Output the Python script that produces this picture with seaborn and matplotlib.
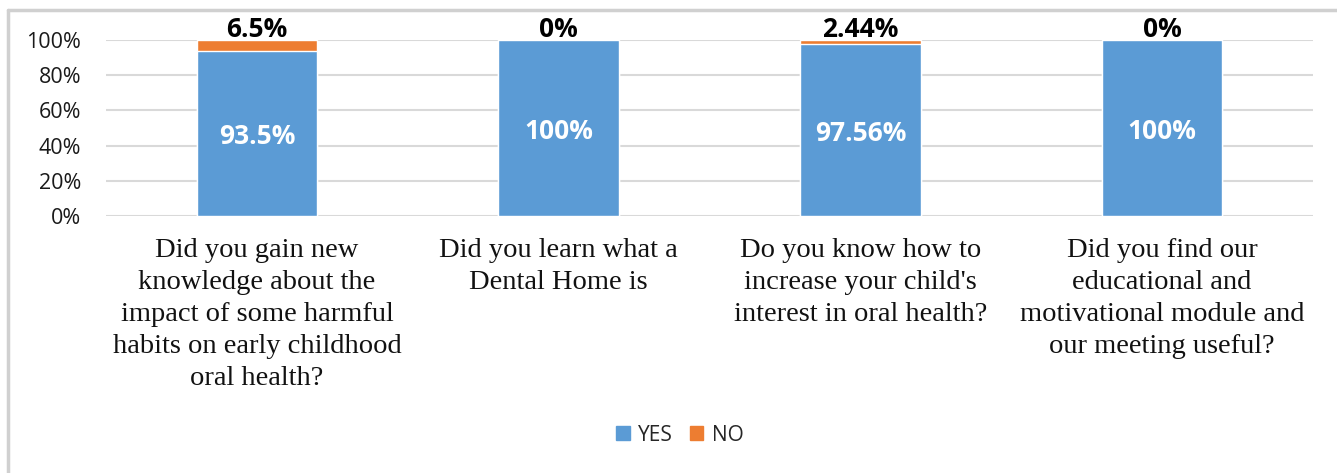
import pandas as pd
import matplotlib.pyplot as plt
import seaborn as sns
from matplotlib.patches import Patch
from matplotlib.lines import Line2D

questions = [
    "Did you gain new\nknowledge about the\nimpact of some harmful\nhabits on early childhood\noral health?",
    "Did you learn what a\nDental Home is",
    "Do you know how to\nincrease your child's\ninterest in oral health?",
    "Did you find our\neducational and\nmotivational module and\nour meeting useful?",
]
yes_pct = [93.5, 100, 97.56, 100]
no_pct = [6.5, 0, 2.44, 0]
yes_labels = ["93.5%", "100%", "97.56%", "100%"]
no_labels = ["6.5%", "0%", "2.44%", "0%"]

blue = "#5B9BD5"
orange = "#ED7D31"

df = pd.DataFrame({"question": questions, "YES": yes_pct, "NO": no_pct})
df["total"] = df["YES"] + df["NO"]

sns.set_style("white")
plt.rcParams["font.family"] = ["Open Sans", "DejaVu Sans"]

fig = plt.figure(figsize=(13.37, 4.73), dpi=100)
ax = fig.add_axes([0.0793, 0.5433, 0.9027, 0.3721])

# stacked bars: total in orange, YES drawn over it
sns.barplot(data=df, x="question", y="total", color=orange, width=0.4,
            saturation=1, ax=ax, zorder=2)
sns.barplot(data=df, x="question", y="YES", color=blue, width=0.4,
            saturation=1, ax=ax, zorder=3)

ax.set_ylim(0, 100)
ax.set_xlim(-0.5, len(questions) - 0.5)
ax.set_yticks(range(0, 101, 20))
ax.set_yticklabels([f"{v}%" for v in range(0, 101, 20)], fontsize=15.5, color="#1a1a1a")
ax.yaxis.grid(True, color="#D9D9D9", linewidth=1.5, zorder=0)
ax.set_axisbelow(True)
for s in ["top", "right", "left", "bottom"]:
    ax.spines[s].set_visible(False)
ax.tick_params(axis="both", length=0)
ax.tick_params(axis="y", pad=18)
ax.tick_params(axis="x", pad=16)
ax.set_xlabel("")
ax.set_ylabel("")
for lab in ax.get_xticklabels():
    lab.set_fontfamily("Liberation Serif")
    lab.set_fontsize(20.5)
    lab.set_linespacing(1.36)
    lab.set_color("#111111")

for i in range(len(questions)):
    ax.text(i, yes_pct[i] / 2, yes_labels[i], ha="center", va="center_baseline",
            color="white", fontsize=19, fontweight="bold", zorder=4)
    ax.text(i, df["total"][i] + 1.8, no_labels[i], ha="center", va="baseline",
            color="black", fontsize=19, fontweight="bold", zorder=4)

handles = [Patch(color=blue, label="YES"), Patch(color=orange, label="NO")]
fig.legend(handles=handles, loc="center", bbox_to_anchor=(0.5086, 0.080), ncol=2,
           frameon=False, fontsize=15, handlelength=0.65, handleheight=0.65,
           handletextpad=0.4, columnspacing=0.8)

# light frame around the chart
fig.add_artist(Line2D([8 / 1337, 1], [1 - 10 / 473, 1 - 10 / 473],
                      color="#D0D0D0", linewidth=2.5, transform=fig.transFigure))
fig.add_artist(Line2D([8 / 1337, 8 / 1337], [0, 1 - 10 / 473],
                      color="#D0D0D0", linewidth=2.5, transform=fig.transFigure))

fig.savefig("out.png", dpi=100)
